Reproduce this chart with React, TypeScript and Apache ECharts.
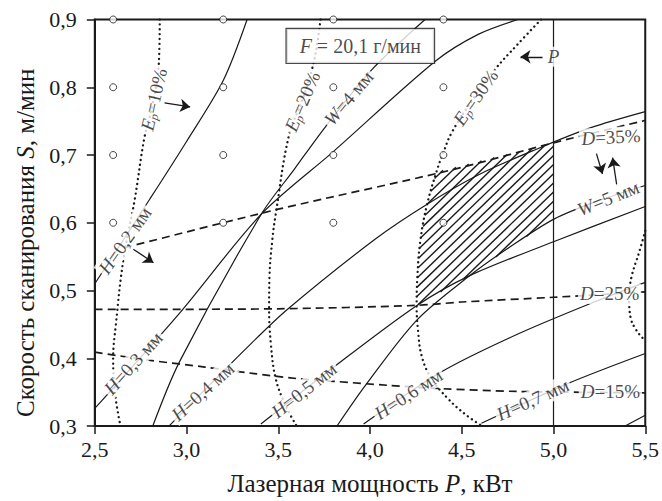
import React, { useEffect, useRef } from 'react';
import * as echarts from 'echarts';

const FONT = "'Liberation Serif', 'Times New Roman', Times, serif";
const INK = '#1a1a1a';

// axes
const X_MIN = 2.5, X_MAX = 5.5, X_STEP = 0.5;
const Y_MIN = 0.3, Y_MAX = 0.9, Y_STEP = 0.1;

// experimental points (P, S)
const pointP = [2.6, 3.2, 3.8, 4.4];
const pointS = [0.6, 0.7, 0.8, 0.9];

// H = const (solid)
const H02 = [[2.5, 0.51], [2.8, 0.635], [3.0, 0.72], [3.2, 0.81], [3.33, 0.9]];
const H03 = [[2.5, 0.326], [2.96, 0.466], [3.407, 0.6125], [3.8, 0.705], [4.354, 0.838], [4.589, 0.878], [4.806, 0.9]];
const H04 = [[2.908, 0.301], [3.342, 0.419], [3.549, 0.472], [4.029, 0.576], [4.309, 0.627], [4.6, 0.672], [4.92, 0.71], [5.2, 0.74], [5.5, 0.764]];
const H05 = [[3.405, 0.303], [3.812, 0.389], [4.254, 0.4776], [4.544, 0.522], [5.0, 0.572], [5.5, 0.624]];
const H06 = [[3.965, 0.303], [4.39, 0.38], [4.8, 0.435], [5.222, 0.483], [5.5, 0.512]];
const H07 = [[4.607, 0.304], [5.077, 0.3625], [5.5, 0.407]];
const H08 = [[5.39, 0.3], [5.5, 0.316]];

// W = const (solid)
const W4 = [[2.816, 0.3], [2.962, 0.395], [3.407, 0.6125], [3.59, 0.68], [3.758, 0.742], [4.01, 0.826], [4.3, 0.9]];
const W5 = [[3.82, 0.3], [3.975, 0.36], [4.254, 0.456], [4.544, 0.522], [4.75, 0.562], [5.0, 0.605], [5.25, 0.633], [5.5, 0.655]];

// D = const (dashed)
const D35 = [[2.66, 0.563], [3.5, 0.62], [4.43, 0.677], [5.0, 0.718], [5.5, 0.751]];
const D25 = [[2.5, 0.472], [3.5, 0.473], [4.25, 0.478], [4.5, 0.483], [5.0, 0.49], [5.5, 0.498]];
const D15 = [[2.5, 0.409], [2.8, 0.397], [3.1, 0.387], [3.35, 0.378], [3.6, 0.37], [3.8, 0.366], [4.1, 0.36], [4.4, 0.355], [4.8, 0.351], [5.5, 0.349]];

// Ep = const (dotted)
const E10 = [[2.854, 0.9], [2.848, 0.83], [2.815, 0.775], [2.77, 0.725], [2.718, 0.635], [2.655, 0.544], [2.615, 0.45], [2.6, 0.4], [2.612, 0.345], [2.64, 0.3]];
const E20 = [[3.73, 0.9], [3.71, 0.86], [3.685, 0.828], [3.63, 0.78], [3.559, 0.73], [3.486, 0.6125], [3.468, 0.576], [3.452, 0.52], [3.45, 0.473], [3.46, 0.42], [3.486, 0.37], [3.54, 0.33], [3.6, 0.3]];
const E30 = [[4.932, 0.9], [4.8, 0.862], [4.68, 0.826], [4.56, 0.782], [4.445, 0.733], [4.399, 0.703], [4.363, 0.676], [4.309, 0.625], [4.273, 0.571], [4.258, 0.52], [4.254, 0.478], [4.262, 0.44], [4.281, 0.404], [4.33, 0.372], [4.426, 0.34], [4.525, 0.316], [4.61, 0.3]];
const E40 = [[5.5, 0.588], [5.465, 0.555], [5.425, 0.52], [5.412, 0.49], [5.42, 0.46], [5.45, 0.442], [5.485, 0.43], [5.5, 0.426]];

// P limit
const PLIM = [[5.0, 0.3], [5.0, 0.9]];

// admissible (hatched) region
const hatchRegion = [[4.254, 0.478], [4.258, 0.52], [4.273, 0.571], [4.309, 0.625], [4.34, 0.655], [4.363, 0.675], [5.0, 0.718], [5.0, 0.605], [4.75, 0.562], [4.544, 0.522]];

// arrows [from, to]
const arrows = [
  [[2.88, 0.777], [3.02, 0.771]],
  [[2.71, 0.561], [2.82, 0.541]],
  [[4.94, 0.845], [4.82, 0.845]],
  [[5.234, 0.702], [5.267, 0.672]],
  [[5.345, 0.655], [5.322, 0.696]],
];

// curve labels
const curveLabels = [
  { text: '{i|H}{n|=0,2 мм}', at: [2.664, 0.574], angle: 55 },
  { text: '{i|H}{n|=0,3 мм}', at: [2.709, 0.393], angle: 48 },
  { text: '{i|H}{n|=0,4 мм}', at: [3.088, 0.351], angle: 42 },
  { text: '{i|H}{n|=0,5 мм}', at: [3.64, 0.353], angle: 38 },
  { text: '{i|H}{n|=0,6 мм}', at: [4.209, 0.347], angle: 33 },
  { text: '{i|H}{n|=0,7 мм}', at: [4.887, 0.339], angle: 24 },
  { text: '{i|W}{n|=4 мм}', at: [3.884, 0.784], angle: 50 },
  { text: '{i|W}{n|=5 мм}', at: [5.298, 0.636], angle: 22 },
  { text: '{i|E}{s|p}{n|=10%}', at: [2.822, 0.782], angle: 77 },
  { text: '{i|E}{s|p}{n|=20%}', at: [3.631, 0.779], angle: 67 },
  { text: '{i|E}{s|p}{n|=30%}', at: [4.575, 0.785], angle: 55 },
  { text: '{i|D}{n|=35%}', at: [5.313, 0.7265], angle: 3 },
  { text: '{i|D}{n|=25%}', at: [5.306, 0.495], angle: 0 },
  { text: '{i|D}{n|=15%}', at: [5.31, 0.3515], angle: 0 },
  { text: '{i|P}', at: [5.0, 0.845], angle: 0 },
];
const boxLabel = { text: '{i|F}{n| = 20,1 г/мин}', at: [3.947, 0.861] };

const HATCH_ANGLE = 44;
const HATCH_GAP = 9.5;

const fmt = (v: number) => v.toFixed(1).replace('.', ',');

const rich = {
  i: { fontFamily: FONT, fontStyle: 'italic', fontSize: 19, color: INK, lineHeight: 20 },
  n: { fontFamily: FONT, fontSize: 19, color: INK, lineHeight: 20 },
  s: { fontFamily: FONT, fontStyle: 'italic', fontSize: 12, color: INK, lineHeight: 8, verticalAlign: 'bottom' },
};
const boxRich = {
  i: { fontFamily: FONT, fontStyle: 'italic', fontSize: 20, color: INK, lineHeight: 22 },
  n: { fontFamily: FONT, fontSize: 20, color: INK, lineHeight: 22 },
};
const titleRich = {
  i: { fontFamily: FONT, fontStyle: 'italic', fontSize: 25, color: INK },
  n: { fontFamily: FONT, fontSize: 25, color: INK },
  g: { fontFamily: FONT, fontSize: 25, width: 40 },
};

function curve(data: number[][], kind: 'solid' | 'dash' | 'dot') {
  const lineStyle =
    kind === 'solid'
      ? { color: INK, width: 1.2 }
      : kind === 'dash'
      ? { color: INK, width: 1.7, type: [8, 5] }
      : { color: INK, width: 2.3, type: [0.1, 4.8], cap: 'round' };
  return {
    type: 'line',
    data,
    symbol: 'none',
    smooth: kind === 'dot' ? 0.4 : 0.3,
    silent: true,
    z: 3,
    lineStyle,
    emphasis: { disabled: true },
  };
}

function buildOption() {
  const points: number[][] = [];
  pointP.forEach((p) => pointS.forEach((s) => points.push([p, s])));

  return {
    animation: false,
    backgroundColor: '#fff',
    textStyle: { fontFamily: FONT },
    grid: {
      left: 94.8,
      right: 13.7,
      top: 19.5,
      bottom: 73.5,
      show: true,
      borderColor: INK,
      borderWidth: 2,
      backgroundColor: 'transparent',
    },
    xAxis: {
      type: 'value',
      min: X_MIN,
      max: X_MAX,
      interval: X_STEP,
      axisLine: { show: true, onZero: false, lineStyle: { color: INK, width: 2 } },
      axisTick: { show: true, length: 8, lineStyle: { color: INK, width: 1.5 } },
      axisLabel: { margin: 12, fontSize: 22, fontFamily: FONT, color: INK, formatter: fmt },
      splitLine: { show: false },
      name: '{n|Лазерная мощность }{i|P}{n|, кВт}',
      nameLocation: 'middle',
      nameGap: 45,
      nameTextStyle: { fontFamily: FONT, rich: titleRich },
    },
    yAxis: {
      type: 'value',
      min: Y_MIN,
      max: Y_MAX,
      interval: Y_STEP,
      axisLine: { show: true, onZero: false, lineStyle: { color: INK, width: 2 } },
      axisTick: { show: true, length: 8, lineStyle: { color: INK, width: 1.5 } },
      axisLabel: { margin: 18, fontSize: 22, fontFamily: FONT, color: INK, formatter: fmt },
      splitLine: { show: false },
      name: '{n|Скорость сканирования }{i|S}{n|, м/мин}{g| }',
      nameLocation: 'middle',
      nameGap: 44,
      nameTextStyle: { fontFamily: FONT, rich: titleRich },
    },
    series: [
      {
        type: 'custom',
        silent: true,
        z: 2,
        data: [hatchRegion[0]],
        renderItem: (_params: any, api: any) => {
          const pts = hatchRegion.map((p) => api.coord(p));
          const a = (HATCH_ANGLE * Math.PI) / 180;
          const sa = Math.sin(a), ca = Math.cos(a);
          const f = (p: number[]) => p[0] * sa + p[1] * ca;
          const vals = pts.map(f);
          const lo = Math.min(...vals), hi = Math.max(...vals);
          const step = HATCH_GAP * sa;
          const children: any[] = [];
          for (let c = lo + step / 2; c < hi; c += step) {
            const hits: number[][] = [];
            for (let i = 0; i < pts.length; i++) {
              const p = pts[i], q = pts[(i + 1) % pts.length];
              const fp = f(p) - c, fq = f(q) - c;
              if ((fp < 0) !== (fq < 0)) {
                const t = fp / (fp - fq);
                hits.push([p[0] + t * (q[0] - p[0]), p[1] + t * (q[1] - p[1])]);
              }
            }
            hits.sort((u, v) => u[0] - v[0]);
            for (let k = 0; k + 1 < hits.length; k += 2) {
              children.push({
                type: 'line',
                shape: { x1: hits[k][0], y1: hits[k][1], x2: hits[k + 1][0], y2: hits[k + 1][1] },
                style: { stroke: INK, lineWidth: 1.4 },
              });
            }
          }
          return { type: 'group', children };
        },
      },
      curve(H02, 'solid'),
      curve(H03, 'solid'),
      curve(H04, 'solid'),
      curve(H05, 'solid'),
      curve(H06, 'solid'),
      curve(H07, 'solid'),
      curve(H08, 'solid'),
      curve(W4, 'solid'),
      curve(W5, 'solid'),
      curve(PLIM, 'solid'),
      curve(D35, 'dash'),
      curve(D25, 'dash'),
      curve(D15, 'dash'),
      curve(E10, 'dot'),
      curve(E20, 'dot'),
      curve(E30, 'dot'),
      curve(E40, 'dot'),
      {
        type: 'scatter',
        silent: true,
        z: 5,
        symbol: 'circle',
        symbolSize: 7,
        itemStyle: { color: '#fff', borderColor: INK, borderWidth: 1 },
        data: points,
      },
      {
        type: 'lines',
        coordinateSystem: 'cartesian2d',
        silent: true,
        z: 6,
        symbol: ['none', 'arrow'],
        symbolSize: [1, 10],
        lineStyle: { color: INK, width: 1.3, opacity: 1, curveness: 0 },
        data: arrows.map((c) => ({ coords: c })),
      },
      {
        type: 'scatter',
        silent: true,
        z: 10,
        symbolSize: 1,
        itemStyle: { color: 'rgba(0,0,0,0)' },
        label: {
          show: true,
          position: 'inside',
          backgroundColor: '#fff',
          padding: [0, 2],
          color: INK,
          fontFamily: FONT,
          rich,
        },
        data: [
          ...curveLabels.map((l) => ({ value: l.at, label: { formatter: l.text, rotate: l.angle } })),
          {
            value: boxLabel.at,
            label: {
              formatter: boxLabel.text,
              rotate: 0,
              rich: boxRich,
              backgroundColor: '#fff',
              borderColor: INK,
              borderWidth: 1.2,
              padding: [6, 13, 6, 13],
            },
          },
        ],
      },
    ],
  };
}

export default function App() {
  const ref = useRef<HTMLDivElement>(null);
  useEffect(() => {
    if (!ref.current) return;
    const chart = echarts.init(ref.current, undefined, { renderer: 'svg' });
    chart.setOption(buildOption() as any);
    return () => chart.dispose();
  }, []);
  return (
    <div
      ref={ref}
      style={{ position: 'fixed', left: 0, top: 0, width: 662, height: 501, background: '#fff' }}
    />
  );
}
